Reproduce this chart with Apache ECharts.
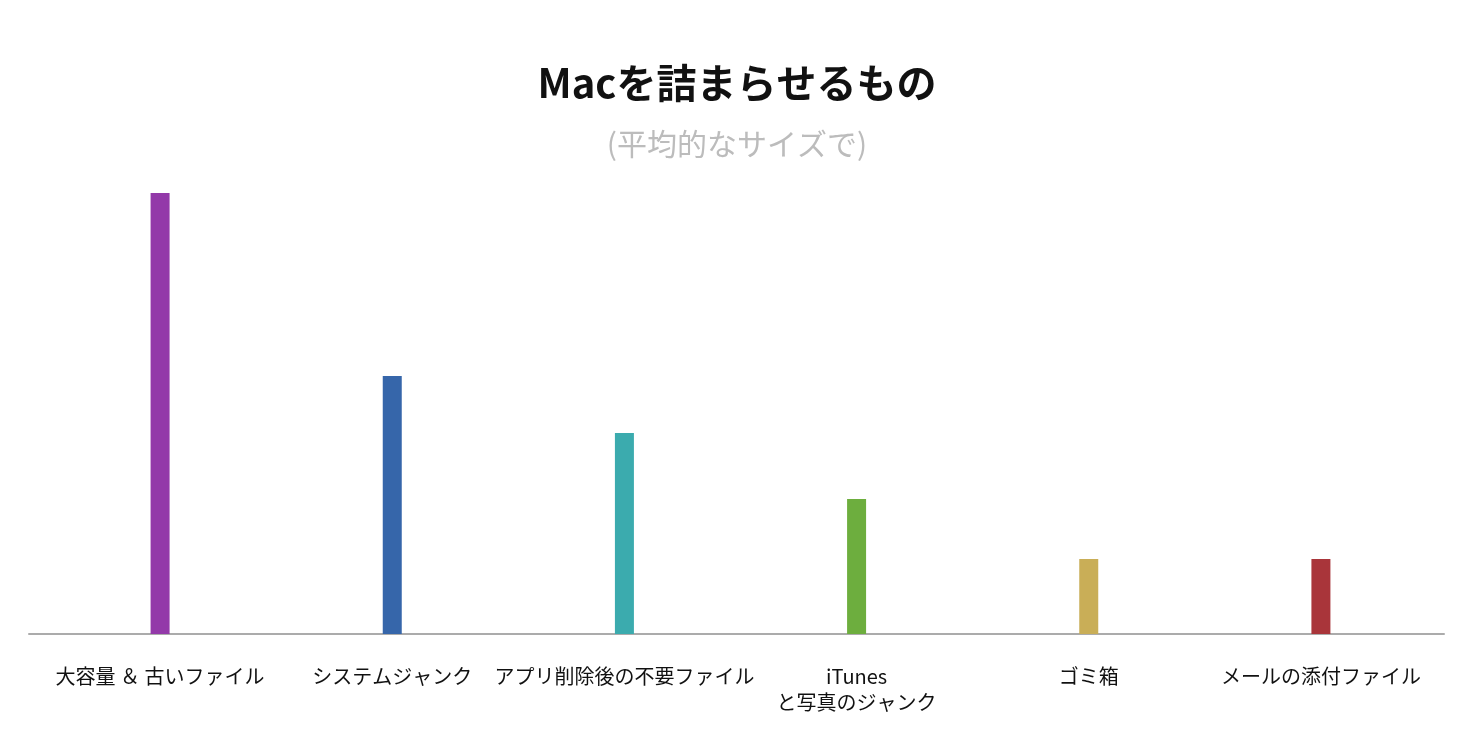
<!DOCTYPE html>
<html>
<head>
<meta charset="utf-8">
<script src="https://cdn.jsdelivr.net/npm/echarts@6/dist/echarts.min.js"></script>
<style>
html,body{margin:0;padding:0;background:#fff;}
#chart{width:1474px;height:751px;}
</style>
</head>
<body>
<div id="chart"></div>
<script>
const categories = ['大容量 ＆ 古いファイル', 'システムジャンク', 'アプリ削除後の不要ファイル', 'iTunes\nと写真のジャンク', 'ゴミ箱', 'メールの添付ファイル'];
const values = [29.4, 17.2, 13.4, 9, 5, 5];
const colors = ['#9339A9', '#3666AA', '#3BABAE', '#6DAE3E', '#C9AE57', '#A9353A'];

const FONT = '"Noto Sans CJK JP", "Noto Sans", sans-serif';
const chart = echarts.init(document.getElementById('chart'));
chart.setOption({
  backgroundColor: '#fff',
  animation: false,
  title: {
    text: 'Macを詰まらせるもの',
    subtext: '(平均的なサイズで)',
    left: 'center',
    top: 58,
    itemGap: 26,
    textStyle: { fontFamily: FONT, fontSize: 40, fontWeight: 'bold', color: '#111' },
    subtextStyle: { fontFamily: FONT, fontSize: 30, color: '#bcbcbc' }
  },
  grid: [
    { left: 44, right: 37, top: 184, bottom: 117 },
    { left: 29, right: 30, top: 184, bottom: 117 }
  ],
  xAxis: [
    {
      type: 'category', gridIndex: 0, data: categories,
      axisLine: { show: false }, axisTick: { show: false },
      axisLabel: { fontFamily: FONT, fontSize: 20, color: '#111', margin: 29, lineHeight: 26, interval: 0 }
    },
    {
      type: 'value', gridIndex: 1, min: 0, max: 1,
      axisLine: { show: true, onZero: false, lineStyle: { color: '#ababab', width: 2 } },
      axisTick: { show: false }, axisLabel: { show: false }, splitLine: { show: false }
    }
  ],
  yAxis: [
    { type: 'value', gridIndex: 0, min: 0, max: 30, show: false },
    { type: 'value', gridIndex: 1, min: 0, max: 1, show: false }
  ],
  series: [{
    type: 'bar',
    xAxisIndex: 0, yAxisIndex: 0,
    barWidth: 19,
    data: values.map((v, i) => ({ value: v, itemStyle: { color: colors[i] } }))
  }]
});
</script>
</body>
</html>
